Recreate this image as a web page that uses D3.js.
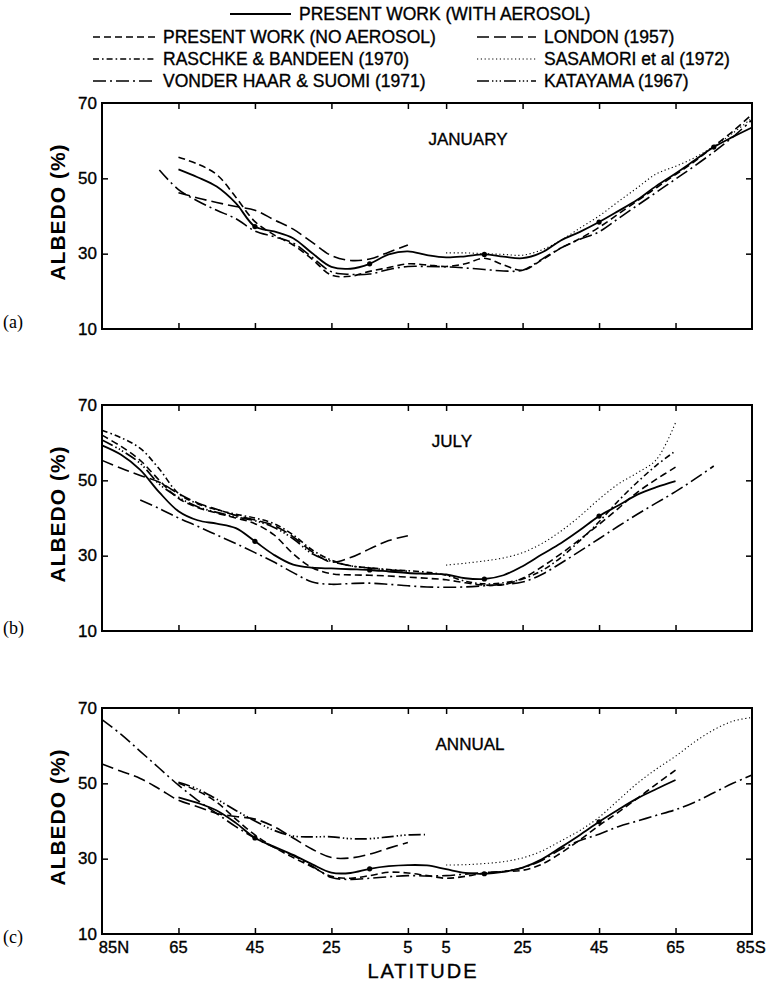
<!DOCTYPE html>
<html>
<head>
<meta charset="utf-8">
<script src="https://cdn.jsdelivr.net/npm/d3@7"></script>
<style>
  body { margin: 0; background: #fff; }
  text { font-family: "Liberation Sans", Arial, sans-serif; fill: #000; }
  text.ink { stroke: #000; stroke-width: 0.35px; }
</style>
</head>
<body>
<svg id="chart" width="769" height="982"></svg>
<script>
// latitude grid, N positive / S negative (85N ... 0 ... 85S)
const latitudes = [85, 80, 75, 70, 65, 60, 55, 50, 45, 40, 35, 30, 25, 20, 15, 10, 5,
                   0,
                   -5, -10, -15, -20, -25, -30, -35, -40, -45, -50, -55, -60, -65, -70, -75, -80, -85];
const _ = null;
const none = n => Array(n).fill(null);   // no data for that stretch

const xTickLats = [85, 65, 45, 25, 5, -5, -25, -45, -65, -85];
const xTickLabels = ['85N', '65', '45', '25', '5', '5', '25', '45', '65', '85S'];
const yTicks = [70, 50, 30, 10];

// ---- January
const janAerosol = [_, _, _, _, 52.4, 50.3, 47.8, 43.4, 37.2, 35.9, 34.1, 30.1, 26.5, 26.0, 27.3, 29.8, 30.6,
  29.6,
  29.0, 29.3, 29.8, 29.2, 28.8, 30.3, 33.5, 35.8, 38.4, 41.3, 44.3, 48.0, 51.3, 54.8, 58.3, 61.0, 63.5];
const janNoAerosol = [_, _, _, _, 55.6, 53.8, 51.0, 45.0, 38.5, 35.0, 32.3, 28.5, 24.3, 24.0, 25.3, 26.3, 27.3,
  27.0,
  26.6, 27.3, 28.8, 27.0, 25.6, 28.3, 31.5, 34.0, 37.0, 40.5, 44.0, 47.5, 51.0, 54.5, 58.5, 62.5, 67.0];
const janVonderHaar = [_, _, _, 52.2, 47.0, 44.0, 41.5, 39.3, 36.0, 34.5, 32.8, 29.0, 25.2, 24.5, 24.6, 25.8, 26.6,
  26.6,
  26.5, 26.2, 25.8, 25.4, 25.6, 28.5, 31.5, 33.8, 35.8, 39.3, 42.8, 46.3, 49.8, 53.3, 57.0, 61.0, 65.5];
const janLondon = [_, _, _, _, 46.2, 44.8, 43.6, 42.5, 41.5, 39.0, 36.5, 33.0, 29.5, 28.2, 28.6, 30.4, 32.3,
  _, ...none(17)];
const janSasamori = [...none(17), _,
  30.2, 30.2, 30.0, 29.8, 29.6, 31.0, 33.5, 36.8, 40.0, 43.8, 47.5, 51.2, 53.2, 55.5, 58.5, 62.0, 66.0];
const janMarkLat = [45, 15, -15, -45, -75];
const janMarkVal = [37.2, 27.3, 29.8, 38.4, 58.3];

// ---- July
const julAerosol = [59.3, 56.8, 52.8, 46.8, 41.8, 39.4, 38.5, 37.3, 33.8, 30.2, 27.6, 26.8, 26.6, 26.4, 26.2, 25.8, 25.4,
  25.2,
  25.0, 24.0, 23.8, 24.8, 27.2, 30.3, 33.3, 36.8, 40.5, 43.3, 46.2, 48.2, 49.8, _, _, _, _];
const julNoAerosol = [62.0, 59.0, 55.3, 50.0, 45.2, 42.8, 41.3, 40.0, 38.5, 35.5, 30.5, 26.8, 25.2, 24.9, 24.8, 24.6, 24.3,
  24.0,
  23.6, 22.8, 22.2, 22.3, 24.0, 27.0, 30.5, 34.3, 38.3, 42.5, 46.8, 50.3, 53.5, _, _, _, _];
const julRaschke = [63.3, 61.3, 58.5, 53.0, 46.5, 43.8, 42.2, 41.0, 40.0, 38.5, 35.5, 31.5, 28.8, 27.3, 26.8, 26.3, 26.0,
  25.6,
  24.8, 23.2, 22.5, 22.8, 23.8, 26.0, 29.5, 34.0, 39.0, 44.5, 49.5, 54.0, 57.8, _, _, _, _];
const julVonderHaar = [_, _, 44.8, 42.5, 40.0, 37.8, 35.5, 33.2, 30.8, 28.3, 25.5, 23.0, 22.4, 22.6, 22.7, 22.4, 22.0,
  21.7,
  21.6, 21.7, 22.0, 22.4, 23.0, 25.0, 28.0, 31.2, 34.5, 37.8, 41.0, 44.0, 47.0, 50.3, 53.8, _, _];
const julLondon = [55.3, 53.2, 51.3, 49.5, 46.5, 44.0, 42.3, 40.7, 39.5, 38.0, 35.0, 31.0, 28.3, 29.5, 31.8, 34.0, 35.3,
  _, ...none(17)];
const julKatayama = [60.7, 58.0, 54.5, 49.0, 45.5, 43.0, 41.5, 40.3, 39.3, 37.5, 34.5, 30.5, 28.5, 27.3, 26.7, 26.2, 25.9,
  _, ...none(17)];
const julSasamori = [...none(17), _,
  27.5, 28.0, 28.6, 29.4, 30.8, 33.2, 36.5, 40.5, 45.0, 49.0, 52.0, 55.5, 65.3, _, _, _, _];
const julMarkLat = [45, 15, -15, -45];
const julMarkVal = [33.8, 26.2, 23.8, 40.5];

// ---- Annual
const annAerosol = [_, _, _, _, 46.3, 44.8, 42.8, 39.5, 35.5, 33.2, 31.0, 28.5, 26.3, 26.2, 27.3, 28.0, 28.3,
  28.2,
  27.2, 26.2, 26.0, 26.5, 27.6, 29.8, 33.0, 36.3, 39.8, 43.0, 46.0, 48.5, 50.9, _, _, _, _];
const annNoAerosol = [_, _, _, _, 50.0, 48.0, 45.0, 40.5, 36.3, 33.0, 30.3, 27.8, 25.3, 24.8, 25.5, 26.4, 26.2,
  25.5,
  24.8, 25.3, 26.2, 26.6, 26.9, 28.5, 31.5, 35.0, 38.8, 42.3, 46.0, 49.8, 53.5, _, _, _, _];
const annVonderHaar = [66.9, 63.0, 58.5, 54.0, 49.5, 45.5, 42.0, 38.5, 35.5, 33.0, 30.8, 28.0, 25.0, 24.5, 24.8, 25.2, 25.5,
  25.4,
  25.5, 25.9, 26.3, 26.6, 27.6, 29.5, 32.5, 34.8, 36.5, 38.5, 40.0, 41.5, 43.0, 45.0, 47.5, 50.0, 52.2];
const annLondon = [55.1, 53.2, 51.3, 48.5, 45.5, 43.8, 42.0, 41.2, 40.5, 38.5, 35.5, 32.5, 30.3, 30.2, 31.2, 32.8, 34.3,
  _, ...none(17)];
const annKatayama = [_, _, _, _, 50.3, 48.5, 45.8, 42.8, 40.0, 37.5, 36.0, 35.8, 35.8, 35.3, 35.3, 35.8, 36.3,
  36.4, ...none(17)];
const annSasamori = [...none(17), _,
  28.3, 28.4, 28.7, 29.2, 30.2, 32.0, 34.7, 37.5, 41.0, 45.5, 50.0, 53.8, 57.2, 61.0, 64.2, 66.5, 67.5];
const annMarkLat = [45, 15, -15, -45];
const annMarkVal = [35.5, 27.3, 26.0, 39.8];

// ---- legend
const legendTop = ['aerosol'];
const legendLeft = ['noAerosol', 'raschke', 'vonderHaar'];
const legendRight = ['london', 'sasamori', 'katayama'];
const legendNames = {
  aerosol: 'PRESENT WORK (WITH AEROSOL)',
  noAerosol: 'PRESENT WORK (NO AEROSOL)',
  raschke: 'RASCHKE & BANDEEN (1970)',
  vonderHaar: 'VONDER HAAR & SUOMI (1971)',
  london: 'LONDON (1957)',
  sasamori: 'SASAMORI et al (1972)',
  katayama: 'KATAYAMA (1967)'
};

const lineStyle = {
  aerosol:    { dash: null, w: 1.8 },
  noAerosol:  { dash: '7,4', w: 1.6 },
  raschke:    { dash: '6,3,1.6,3', w: 1.6 },
  vonderHaar: { dash: '13,4,2,4', w: 1.6 },
  london:     { dash: '12,5', w: 1.6 },
  sasamori:   { dash: '1.2,2.6', w: 1.1 },
  katayama:   { dash: '12,3,1.4,2.4,1.4,2.4,1.4,3', w: 1.7 }
};

const panels = [
  { title: 'JANUARY', tag: '(a)', top: 103, titleX: 468, tagY: 322,
    series: { noAerosol: janNoAerosol, vonderHaar: janVonderHaar, london: janLondon,
              sasamori: janSasamori, aerosol: janAerosol },
    markLat: janMarkLat, markVal: janMarkVal },
  { title: 'JULY', tag: '(b)', top: 405, titleX: 452, tagY: 628,
    series: { noAerosol: julNoAerosol, raschke: julRaschke, vonderHaar: julVonderHaar,
              london: julLondon, katayama: julKatayama, sasamori: julSasamori, aerosol: julAerosol },
    markLat: julMarkLat, markVal: julMarkVal },
  { title: 'ANNUAL', tag: '(c)', top: 708, titleX: 470, tagY: 937,
    series: { noAerosol: annNoAerosol, vonderHaar: annVonderHaar, london: annLondon,
              katayama: annKatayama, sasamori: annSasamori, aerosol: annAerosol },
    markLat: annMarkLat, markVal: annMarkVal }
];

const plotLeft = 102, plotRight = 752, plotH = 226;
const svg = d3.select('#chart');

const x = d3.scaleLinear().domain([85, -85]).range([plotLeft, plotRight]);

// legend
const legend = svg.append('g');
function legendItem(key, x0, x1, tx, ty) {
  legend.append('line')
    .attr('x1', x0).attr('x2', x1).attr('y1', ty).attr('y2', ty)
    .attr('stroke', '#000')
    .attr('stroke-width', lineStyle[key].w)
    .attr('stroke-dasharray', lineStyle[key].dash);
  legend.append('text')
    .attr('class', 'ink')
    .attr('x', tx).attr('y', ty)
    .attr('dominant-baseline', 'central')
    .style('font-size', '17.5px')
    .text(legendNames[key]);
}
legendTop.forEach(k => legendItem(k, 230, 291, 299, 14));
legendLeft.forEach((k, i) => legendItem(k, 93, 155, 163, 37 + i * 22));
legendRight.forEach((k, i) => legendItem(k, 477, 536, 544, 37 + i * 22));

panels.forEach(p => {
  const g = svg.append('g');
  const y = d3.scaleLinear().domain([10, 70]).range([p.top + plotH, p.top]);

  // inward ticks on every side
  g.append('g').attr('transform', `translate(0,${p.top})`)
    .call(d3.axisBottom(x).tickValues(xTickLats.slice(1, -1)).tickSize(6).tickFormat(''));
  g.append('g').attr('transform', `translate(0,${p.top + plotH})`)
    .call(d3.axisTop(x).tickValues(xTickLats.slice(1, -1)).tickSize(6).tickFormat(''));
  g.append('g').attr('transform', `translate(${plotLeft},0)`)
    .call(d3.axisRight(y).tickValues([50, 30]).tickSize(6).tickFormat(''));
  g.append('g').attr('transform', `translate(${plotRight},0)`)
    .call(d3.axisLeft(y).tickValues([50, 30]).tickSize(6).tickFormat(''));
  g.selectAll('.domain').remove();
  g.selectAll('.tick line').attr('stroke', '#000').attr('stroke-width', 1.5);

  // y labels
  g.selectAll('text.ylab').data(yTicks).join('text')
    .attr('class', 'ylab ink')
    .attr('x', plotLeft - 5)
    .attr('y', d => y(d))
    .attr('text-anchor', 'end')
    .attr('dominant-baseline', 'central')
    .style('font-size', '17px')
    .text(d => d);

  g.append('text')
    .attr('transform', `translate(57,${p.top + plotH / 2 - 4}) rotate(-90)`)
    .attr('text-anchor', 'middle')
    .attr('dominant-baseline', 'central')
    .style('font-size', '21px').style('font-weight', 'bold').style('letter-spacing', '1px')
    .text('ALBEDO (%)');

  g.append('text')
    .attr('class', 'ink')
    .attr('x', p.titleX).attr('y', p.top + 42)
    .attr('text-anchor', 'middle')
    .style('font-size', '17px')
    .text(p.title);

  g.append('text')
    .attr('x', 3).attr('y', p.tagY)
    .attr('dominant-baseline', 'central')
    .style('font-family', '"Liberation Serif", "Times New Roman", serif')
    .style('font-size', '18px')
    .text(p.tag);

  // curves
  const line = d3.line()
    .defined(d => d[1] != null)
    .x(d => x(d[0]))
    .y(d => y(d[1]))
    .curve(d3.curveCatmullRom.alpha(0.5));

  Object.entries(p.series).forEach(([key, vals]) => {
    g.append('path')
      .datum(latitudes.map((lat, i) => [lat, vals[i]]))
      .attr('d', line)
      .attr('fill', 'none')
      .attr('stroke', '#000')
      .attr('stroke-width', lineStyle[key].w)
      .attr('stroke-dasharray', lineStyle[key].dash)
      .attr('stroke-linejoin', 'round');
  });

  g.selectAll('circle').data(p.markLat).join('circle')
    .attr('cx', d => x(d))
    .attr('cy', (d, i) => y(p.markVal[i]))
    .attr('r', 2.6)
    .attr('fill', '#000');

  // frame
  g.append('rect')
    .attr('x', plotLeft).attr('y', p.top)
    .attr('width', plotRight - plotLeft).attr('height', plotH)
    .attr('fill', 'none').attr('stroke', '#000').attr('stroke-width', 2);
});

// latitude labels under the last panel
const lastBottom = panels[2].top + plotH;
svg.selectAll('text.xlab').data(xTickLats).join('text')
  .attr('class', 'xlab ink')
  .attr('x', (d, i) => x(d) + (i === 0 ? 12 : i === xTickLats.length - 1 ? -1 : 0))
  .attr('y', lastBottom + 13)
  .attr('text-anchor', 'middle')
  .attr('dominant-baseline', 'central')
  .style('font-size', '16.5px')
  .text((d, i) => xTickLabels[i]);

svg.append('text')
  .attr('class', 'ink')
  .attr('x', 423).attr('y', 971)
  .attr('text-anchor', 'middle')
  .attr('dominant-baseline', 'central')
  .style('font-size', '20px').style('letter-spacing', '2px')
  .text('LATITUDE');
</script>
</body>
</html>
